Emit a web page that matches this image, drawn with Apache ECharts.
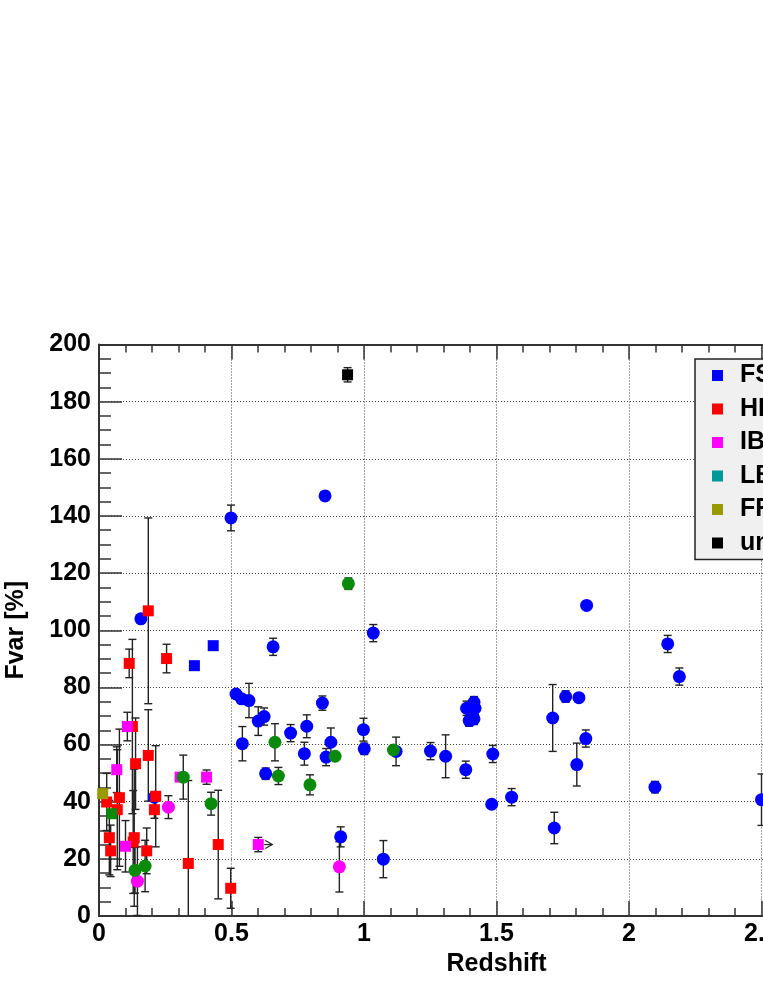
<!DOCTYPE html>
<html>
<head>
<meta charset="utf-8">
<script src="https://cdn.jsdelivr.net/npm/echarts@6.0.0/dist/echarts.min.js"></script>
<style>
  html, body { margin: 0; padding: 0; background: #fff; overflow: hidden; }
  #chartContainer { width: 1000px; height: 987px; }
</style>
</head>
<body>
<div id="chartContainer"></div>
<script>
// [redshift, Fvar %, error]
var FSRQ_CIRCLES = [
  [0.158, 104, 0], [0.209, 41.6, 0], [0.498, 139.3, 4.5], [0.517, 77.7, 0], [0.538, 76, 0],
  [0.566, 75.4, 6], [0.541, 60.3, 6], [0.601, 68.2, 5], [0.623, 69.8, 3], [0.629, 49.8, 2],
  [0.657, 94.2, 3], [0.723, 64, 3], [0.784, 66.4, 4], [0.775, 56.8, 4], [0.843, 74.5, 2.5],
  [0.853, 147, 0], [0.857, 55.6, 3], [0.875, 60.8, 5], [0.912, 27.7, 3.5], [0.998, 65.2, 4],
  [1.001, 58.5, 2], [1.035, 99, 3], [1.073, 19.9, 6.5], [1.121, 57.6, 5], [1.251, 57.7, 3],
  [1.308, 55.9, 7.5], [1.384, 51.2, 3], [1.387, 72.7, 2.5], [1.397, 68.4, 2], [1.415, 74.8, 2],
  [1.419, 72.7, 2], [1.415, 69, 2], [1.486, 56.7, 3], [1.482, 39.1, 0], [1.557, 41.6, 3],
  [1.712, 69.3, 11.7], [1.718, 30.8, 5.5], [1.761, 76.8, 2], [1.811, 76.4, 0], [1.837, 62.1, 3],
  [1.803, 53, 7.5], [1.840, 108.7, 0], [2.098, 45.1, 2], [2.146, 95.2, 3], [2.19, 83.8, 3],
  [2.5, 40.7, 9]
];
var FSRQ_SQUARES = [[0.36, 87.6, 0], [0.431, 94.6, 0]];
var HBL_SQUARES = [
  [0.029, 39.9, 10], [0.039, 27.4, 13], [0.044, 22.8, 9], [0.069, 37.2, 21], [0.077, 41.4, 24],
  [0.114, 88.4, 5], [0.126, 66.3, 30.5], [0.129, 25.9, 18], [0.133, 27.4, 24], [0.138, 53.3, 16],
  [0.18, 22.8, 8], [0.186, 106.8, 32.5], [0.186, 56.2, 16], [0.209, 37.2, 3], [0.214, 41.9, 17.7],
  [0.255, 90.1, 5], [0.337, 18.4, 29], [0.45, 25, 19], [0.497, 9.7, 7]
];
var IBL_SQUARES = [
  [0.067, 51.2, 8], [0.1, 24.4, 9], [0.107, 66.3, 5], [0.306, 48.6, 0], [0.406, 48.6, 2.5],
  [0.601, 25, 2.5]
];
var IBL_CIRCLES = [[0.145, 12.2, 12], [0.262, 38.1, 4], [0.907, 17.2, 8.8]];
var IBL_LIMITS = [[0.601, 25]];
var LBL_CIRCLES = [
  [0.136, 16, 8], [0.174, 17.5, 9], [0.318, 48.6, 7.7], [0.423, 39.3, 4], [0.664, 60.8, 6.5],
  [0.677, 49, 3], [0.796, 45.9, 3.5], [0.891, 55.9, 0], [0.941, 116.3, 2], [1.111, 58.1, 0]
];
var LBL_SQUARES = [[0.048, 35.8, 0]];
var FRI_SQUARES = [[0.014, 42.8, 0]];
var UNKNOWN_SQUARES = [[0.938, 189.4, 2.5]];

var LEGEND_NAMES = ['FSRQ', 'HBL', 'IBL', 'LBL', 'FRI', 'unknown'];
var LEGEND_COLORS = ['#0000ff', '#ff0000', '#ff00ff', '#009999', '#999900', '#000000'];

var FONT = '"Liberation Sans", Arial, sans-serif';

function renderErrorBar(params, api) {
  let x = api.value(0), y = api.value(1), e = api.value(2);
  let hi = api.coord([x, y + e]);
  let lo = api.coord([x, Math.max(0, y - e)]);
  let st = { stroke: '#222', lineWidth: 1.4 };
  let kids = [
    { type: 'line', shape: { x1: hi[0], y1: hi[1], x2: lo[0], y2: lo[1] }, style: st },
    { type: 'line', shape: { x1: hi[0] - 4, y1: hi[1], x2: hi[0] + 4, y2: hi[1] }, style: st }
  ];
  if (y - e > 0) {
    kids.push({ type: 'line', shape: { x1: lo[0] - 4, y1: lo[1], x2: lo[0] + 4, y2: lo[1] }, style: st });
  }
  return { type: 'group', children: kids };
}

function renderLimit(params, api) {
  let p = api.coord([api.value(0), api.value(1)]);
  let st = { stroke: '#222', lineWidth: 1.2, fill: null };
  return {
    type: 'group',
    children: [
      { type: 'line', shape: { x1: p[0] + 6, y1: p[1], x2: p[0] + 14, y2: p[1] }, style: st },
      { type: 'polyline', shape: { points: [[p[0] + 7, p[1] - 4], [p[0] + 14, p[1]], [p[0] + 7, p[1] + 4]] }, style: st }
    ]
  };
}

function scatter(name, data, symbol, size, color) {
  return {
    name: name,
    type: 'scatter',
    data: data.map(d => [d[0], d[1]]),
    symbol: symbol,
    symbolSize: size,
    itemStyle: { color: color, opacity: 1 },
    emphasis: { disabled: true },
    z: 3
  };
}

var ALL_POINTS = [].concat(FSRQ_CIRCLES, FSRQ_SQUARES, HBL_SQUARES, IBL_SQUARES, IBL_CIRCLES,
  LBL_CIRCLES, LBL_SQUARES, FRI_SQUARES, UNKNOWN_SQUARES).filter(d => d[2] > 0);

var axisLabelStyle = { color: '#000', fontSize: 25, fontWeight: 'bold', fontFamily: FONT };

var CHART_OPTION = {
  animation: false,
  backgroundColor: '#fff',
  grid: { left: 99, top: 344.5, width: 795, height: 571.5, show: false, outerBoundsMode: 'none', containLabel: false },
  legend: {
    orient: 'vertical',
    left: 695,
    top: 359,
    padding: [4, 200, 4, 17],
    backgroundColor: '#f0f0f0',
    borderColor: '#222',
    borderWidth: 1.5,
    borderRadius: 0,
    itemWidth: 11,
    itemHeight: 11,
    itemGap: 8.5,
    selectedMode: false,
    textStyle: { color: '#000', fontSize: 25, fontWeight: 'bold', fontFamily: FONT, lineHeight: 25, padding: [0, 0, 0, 12] },
    data: LEGEND_NAMES.map((n, i) => ({ name: n, icon: 'rect', itemStyle: { color: LEGEND_COLORS[i] } }))
  },
  xAxis: [
    {
      type: 'value', min: 0, max: 3, interval: 0.5, position: 'bottom',
      name: 'Redshift', nameLocation: 'middle', nameGap: 33,
      nameTextStyle: axisLabelStyle,
      axisLine: { lineStyle: { color: '#333', width: 2 } },
      axisTick: { inside: true, length: 15, lineStyle: { color: '#333', width: 1.5 } },
      minorTick: { show: true, splitNumber: 5, length: 8, lineStyle: { color: '#333', width: 1.5 } },
      axisLabel: Object.assign({ margin: 6, showMinLabel: true, showMaxLabel: true }, axisLabelStyle),
      splitLine: { show: true, lineStyle: { color: '#444', width: 1, type: [1, 2] } }
    },
    {
      type: 'value', min: 0, max: 3, interval: 0.5, position: 'top',
      axisLine: { lineStyle: { color: '#333', width: 2 } },
      axisTick: { inside: true, length: 15, lineStyle: { color: '#333', width: 1.5 } },
      minorTick: { show: true, splitNumber: 5, length: 8, lineStyle: { color: '#333', width: 1.5 } },
      axisLabel: { show: false },
      splitLine: { show: false }
    }
  ],
  yAxis: [
    {
      type: 'value', min: 0, max: 200, interval: 20,
      name: 'Fvar [%]', nameLocation: 'middle', nameGap: 70, nameRotate: 90,
      nameTextStyle: axisLabelStyle,
      axisLine: { show: true, lineStyle: { color: '#333', width: 2 } },
      axisTick: { show: true, inside: true, length: 23, lineStyle: { color: '#333', width: 1.5 } },
      minorTick: { show: true, splitNumber: 4, length: 12, lineStyle: { color: '#333', width: 1.5 } },
      axisLabel: Object.assign({ margin: 8, showMinLabel: true, showMaxLabel: true }, axisLabelStyle),
      splitLine: { show: true, lineStyle: { color: '#444', width: 1, type: [1, 2] } }
    }
  ],
  series: [
    {
      name: 'errors', type: 'custom', renderItem: renderErrorBar,
      data: ALL_POINTS, encode: { x: 0, y: 1 }, z: 2, silent: true
    },
    {
      name: 'limits', type: 'custom', renderItem: renderLimit,
      data: IBL_LIMITS, encode: { x: 0, y: 1 }, z: 2, silent: true
    },
    scatter('FSRQ', FSRQ_CIRCLES, 'circle', 13, '#0000ff'),
    scatter('FSRQ', FSRQ_SQUARES, 'rect', 11, '#0000ff'),
    scatter('HBL', HBL_SQUARES, 'rect', 11, '#ff0000'),
    scatter('IBL', IBL_SQUARES, 'rect', 11, '#ff00ff'),
    scatter('IBL', IBL_CIRCLES, 'circle', 13, '#ff00ff'),
    scatter('LBL', LBL_CIRCLES, 'circle', 13, '#0a8a0a'),
    scatter('LBL', LBL_SQUARES, 'rect', 11, '#0a8a0a'),
    scatter('FRI', FRI_SQUARES, 'rect', 11, '#999900'),
    scatter('unknown', UNKNOWN_SQUARES, 'rect', 11, '#000000')
  ]
};

var CHART = echarts.init(document.getElementById('chartContainer'), null, { renderer: 'canvas' });
CHART.setOption(CHART_OPTION);
</script>
</body>
</html>
